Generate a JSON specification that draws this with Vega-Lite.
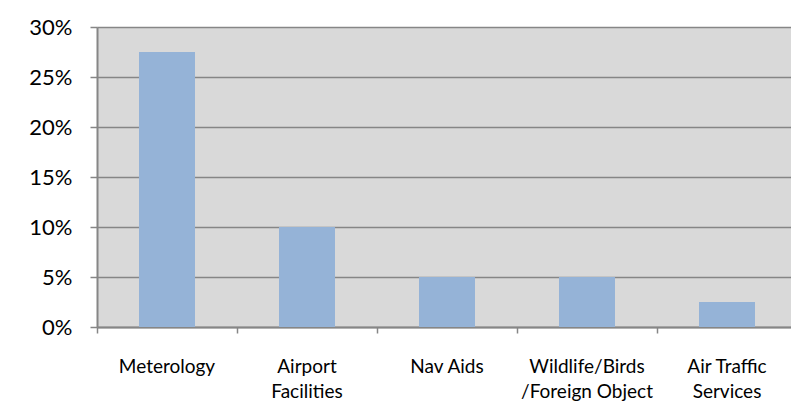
{
  "$schema": "https://vega.github.io/schema/vega-lite/v6.json",
  "width": 694,
  "height": 300,
  "autosize": {"type": "none"},
  "padding": {"left": 97, "top": 27, "right": 0, "bottom": 91},
  "background": "white",
  "config": {
    "view": {"fill": "#d9d9d9", "stroke": null},
    "font": "Lato"
  },
  "data": {
    "values": [
      {"cause": "Meterology", "share": 0.275},
      {"cause": "Airport\nFacilities", "share": 0.10},
      {"cause": "Nav Aids", "share": 0.05},
      {"cause": "Wildlife/Birds\n/Foreign Object", "share": 0.05},
      {"cause": "Air Traffic\nServices", "share": 0.025}
    ]
  },
  "mark": {"type": "bar", "color": "#95b3d7", "width": {"band": 0.4}},
  "encoding": {
    "x": {
      "field": "cause",
      "type": "nominal",
      "sort": null,
      "scale": {"paddingInner": 0, "paddingOuter": 0, "range": [0, 700]},
      "axis": {
        "title": null,
        "labelAngle": 0,
        "labelExpr": "split(datum.label, '\\n')",
        "labelFont": "Lato",
        "labelFontSize": 19,
        "labelColor": "#000000",
        "labelLineHeight": 25,
        "labelPadding": 24,
        "labelBaseline": "top",
        "bandPosition": 0,
        "ticks": true,
        "tickSize": 6,
        "tickColor": "#868686",
        "tickWidth": 1.5,
        "domainColor": "#868686",
        "domainWidth": 2,
        "grid": false
      }
    },
    "y": {
      "field": "share",
      "type": "quantitative",
      "scale": {"domain": [0, 0.3], "nice": false},
      "axis": {
        "title": null,
        "values": [0, 0.05, 0.1, 0.15, 0.2, 0.25, 0.3],
        "format": "%",
        "labelFont": "Lato",
        "labelFontSize": 22,
        "labelColor": "#000000",
        "labelPadding": 18,
        "tickSize": 7,
        "tickColor": "#868686",
        "tickWidth": 1.5,
        "domainColor": "#868686",
        "domainWidth": 2,
        "grid": true,
        "gridColor": "#868686",
        "gridWidth": 1.5
      }
    }
  }
}
